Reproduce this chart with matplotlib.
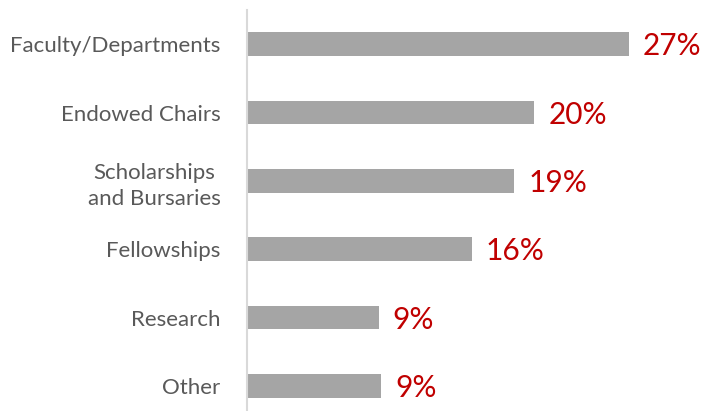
import matplotlib.pyplot as plt

# data
categories = ["Faculty/Departments", "Endowed Chairs", "Scholarships\nand Bursaries",
              "Fellowships", "Research", "Other"]
values = [27.0, 20.3, 18.9, 15.9, 9.3, 9.5]
labels = ["27%", "20%", "19%", "16%", "9%", "9%"]

plt.rcParams["font.family"] = ["Lato", "DejaVu Sans"]

fig = plt.figure(figsize=(7.14, 4.11), dpi=100)
ax = fig.add_axes([247 / 714, -9 / 411, 467 / 714, 410 / 411])

ypos = list(range(len(categories)))
ax.barh(ypos, values, height=0.35, color="#A5A5A5")

for y, v, lab in zip(ypos, values, labels):
    ax.annotate(lab, (v, y), xytext=(14, -2), textcoords="offset pixels",
                va="center", ha="left", fontsize=21.5, color="#C00000")

ax.set_ylim(len(categories) - 0.5, -0.5)
ax.set_xlim(0, 33)
ax.set_yticks(ypos)
ax.set_yticklabels(categories, fontsize=16, color="#595959",
                   multialignment="center", linespacing=1.4)
ax.tick_params(axis="y", length=0, pad=19)
ax.set_xticks([])

for side in ["top", "right", "bottom"]:
    ax.spines[side].set_visible(False)
ax.spines["left"].set_color("#D9D9D9")
ax.spines["left"].set_linewidth(1.5)

fig.savefig("out.png", dpi=100)
